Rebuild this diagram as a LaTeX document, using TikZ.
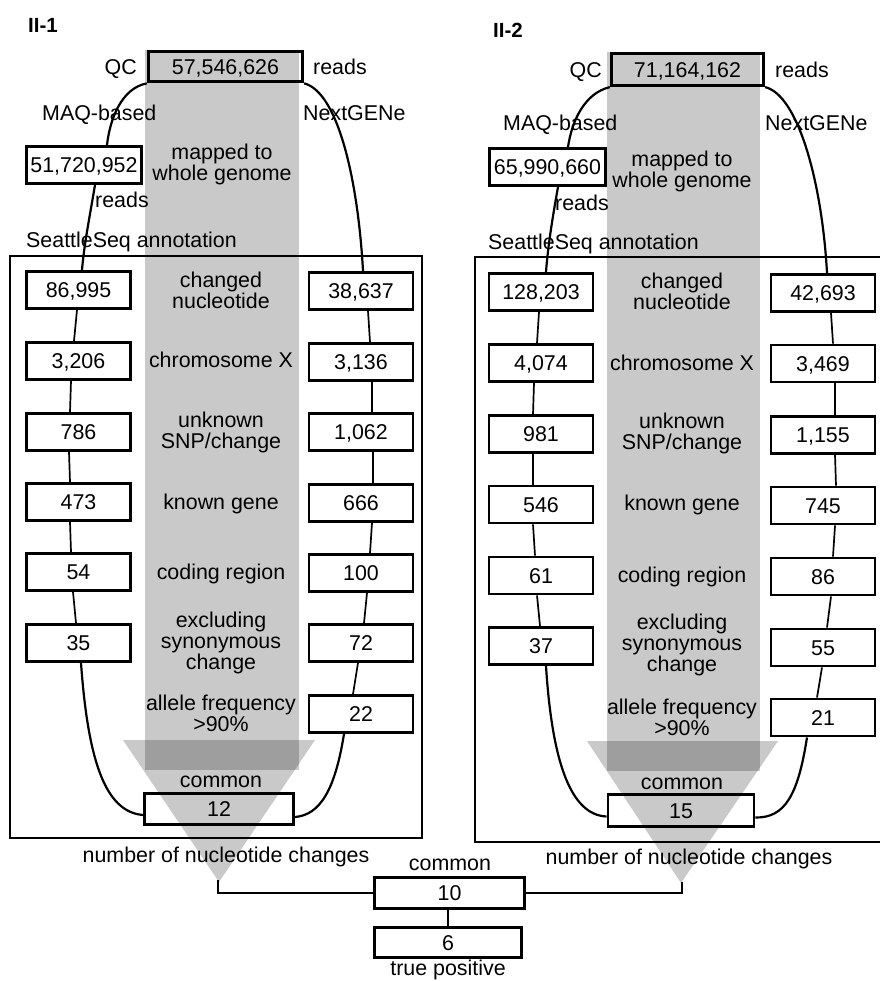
\documentclass[tikz,border=0pt]{standalone}
\usepackage{fontspec}
\setmainfont{Liberation Sans}
\begin{document}
\begin{tikzpicture}[x=1pt,y=-1pt,
  txt/.style={font=\fontsize{21.4}{21}\selectfont, inner sep=0pt},
  lbl/.style={txt, text height=15.4pt, text depth=0pt},
  mlbl/.style={txt, align=center},
  ttl/.style={font=\bfseries\fontsize{20.5}{20}\selectfont, inner sep=0pt, text height=14.7pt, text depth=0pt},
  nbox/.style={lbl, draw, line width=2.9pt, fill=white, minimum width=104pt, minimum height=37pt},
  qcbox/.style={lbl, draw, line width=3.2pt, minimum height=30.5pt},
  shade/.style={fill=black, fill opacity=0.21, draw=none},
  curve/.style={line width=2.2pt},
  conn/.style={line width=1.7pt},
  frame/.style={line width=2.7pt}
]
\useasboundingbox (0,0) rectangle (879,981);

% ---------- gray columns and funnels ----------
\fill[shade] (145,50) rectangle (299,770);
\fill[shade] (123,740) -- (315,740) -- (219,882) -- cycle;
\fill[shade] (607,52) rectangle (760,771);
\fill[shade] (587,741) -- (778,741) -- (681,883) -- cycle;
\coordinate (apex1) at (218,880);
\coordinate (apex2) at (682,882);

% ---------- frames ----------
\draw[frame] (10,256) rectangle (422,838);
\draw[frame] (475,257) rectangle (905,842);

% ---------- II-1 nodes ----------
\node[ttl, anchor=west] (t1) at (28,25) {II-1};
\node[qcbox, minimum width=154pt] (qc1) at (225.5,66.5) {57,546,626};
\node[lbl, anchor=east] (qcl1) at (137,67) {QC};
\node[lbl, anchor=west] (rd1) at (313,67) {reads};
\node[lbl, anchor=west] (maq1) at (42,113) {MAQ-based};
\node[lbl, anchor=west] (nxt1) at (303,113) {NextGENe};
\node[nbox, minimum width=115pt] (m1) at (84,165) {51,720,952};
\node[mlbl] (map1) at (222,164) {mapped to\\whole genome};
\node[lbl, anchor=west] (rdb1) at (95,200) {reads};
\node[lbl, anchor=west] (ss1) at (26,240) {SeattleSeq annotation};

\node[nbox] (l1) at (78.5,290) {86,995};
\node[nbox] (l2) at (78.5,361) {3,206};
\node[nbox] (l3) at (78.5,432) {786};
\node[nbox] (l4) at (78.5,502) {473};
\node[nbox] (l5) at (78.5,572) {54};
\node[nbox] (l6) at (78.5,643) {35};

\node[nbox] (r1) at (361,291) {38,637};
\node[nbox] (r2) at (361,362) {3,136};
\node[nbox] (r3) at (361,432) {1,062};
\node[nbox] (r4) at (361,503) {666};
\node[nbox] (r5) at (361,573) {100};
\node[nbox] (r6) at (361,643) {72};
\node[nbox] (r7) at (361,714) {22};

\node[mlbl] (a1) at (221,290) {changed\\nucleotide};
\node[lbl] (a2) at (221,360) {chromosome X};
\node[mlbl] (a3) at (221,432) {unknown\\SNP/change};
\node[lbl] (a4) at (221,502) {known gene};
\node[lbl] (a5) at (221,572) {coding region};
\node[mlbl] (a6) at (221,643) {excluding\\synonymous\\change};
\node[mlbl] (a7) at (221,713) {allele frequency\\>90\%};
\node[lbl] (a8) at (221,780) {common};
\node[lbl, draw, line width=2.9pt, minimum width=149pt, minimum height=31pt] (b12) at (219,809) {12};
\node[lbl] (nn1) at (226,855) {number of nucleotide changes};

% ---------- II-2 nodes ----------
\node[ttl, anchor=west] (t2) at (493,30) {II-2};
\node[qcbox, minimum width=152pt, minimum height=32pt] (qc2) at (687.5,69.5) {71,164,162};
\node[lbl, anchor=east] (qcl2) at (602,70) {QC};
\node[lbl, anchor=west] (rd2) at (775,70) {reads};
\node[lbl, anchor=west] (maq2) at (503,123) {MAQ-based};
\node[lbl, anchor=west] (nxt2) at (765,123) {NextGENe};
\node[nbox, minimum width=116pt] (m2) at (547.5,167) {65,990,660};
\node[mlbl] (map2) at (682,171) {mapped to\\whole genome};
\node[lbl, anchor=west] (rdb2) at (555,203) {reads};
\node[lbl, anchor=west] (ss2) at (488,242) {SeattleSeq annotation};

\node[nbox] (L1) at (541,292) {128,203};
\node[nbox] (L2) at (541,363) {4,074};
\node[nbox] (L3) at (541,434) {981};
\node[nbox] (L4) at (541,504.5) {546};
\node[nbox] (L5) at (541,575.5) {61};
\node[nbox] (L6) at (541,646) {37};

\node[nbox] (R1) at (823,293) {42,693};
\node[nbox] (R2) at (823,363.5) {3,469};
\node[nbox] (R3) at (823,435) {1,155};
\node[nbox] (R4) at (823,505.5) {745};
\node[nbox] (R5) at (823,576.5) {86};
\node[nbox] (R6) at (823,647.5) {55};
\node[nbox] (R7) at (823,717.5) {21};

\node[mlbl] (c1) at (682,291) {changed\\nucleotide};
\node[lbl] (c2) at (682,363) {chromosome X};
\node[mlbl] (c3) at (682,433) {unknown\\SNP/change};
\node[lbl] (c4) at (682,503) {known gene};
\node[lbl] (c5) at (682,575) {coding region};
\node[mlbl] (c6) at (682,645) {excluding\\synonymous\\change};
\node[mlbl] (c7) at (682,717) {allele frequency\\>90\%};
\node[lbl] (c8) at (682,782) {common};
\node[lbl, draw, line width=2.9pt, minimum width=146pt, minimum height=32pt] (b15) at (681,810.5) {15};
\node[lbl] (nn2) at (689,857) {number of nucleotide changes};

% ---------- bottom ----------
\node[lbl] (cm) at (450,863) {common};
\node[nbox, minimum width=150pt, minimum height=31pt] (c10) at (449.5,893) {10};
\node[nbox, minimum width=147pt, minimum height=30pt] (c6b) at (448,942.5) {6};
\node[lbl] (tp) at (448,968) {true positive};

% ---------- II-1 connectors ----------
\draw[curve] (qc1.south west) .. controls (122,88) and (110,118) .. ([xshift=23pt]m1.north);
\draw[curve] ([xshift=11pt]m1.south) .. controls (90,215) and (84,245) .. ([xshift=3.5pt]l1.north);
\draw[curve] (qc1.south east) .. controls (338,92) and (358,180) .. ([xshift=2pt]r1.north);
\draw[conn] ([xshift=-1.5pt]l1.south) -- ([xshift=-4.5pt]l2.north);
\draw[conn] ([xshift=-7.5pt]l2.south) -- ([xshift=-8.5pt]l3.north);
\draw[conn] ([xshift=-9.5pt]l3.south) -- ([xshift=-8.5pt]l4.north);
\draw[conn] ([xshift=-8.5pt]l4.south) -- ([xshift=-7.5pt]l5.north);
\draw[conn] ([xshift=-5.5pt]l5.south) -- ([xshift=-2.5pt]l6.north);
\draw[curve] ([xshift=2.5pt]l6.south) .. controls (88,760) and (105,812) .. ([yshift=-6pt]b12.west);
\draw[conn] ([xshift=7pt]r1.south) -- ([xshift=9pt]r2.north);
\draw[conn] ([xshift=11pt]r2.south) -- ([xshift=11pt]r3.north);
\draw[conn] ([xshift=12pt]r3.south) -- ([xshift=12pt]r4.north);
\draw[conn] ([xshift=11pt]r4.south) -- ([xshift=9pt]r5.north);
\draw[conn] ([xshift=6pt]r5.south) -- ([xshift=3pt]r6.north);
\draw[conn] ([xshift=-3pt]r6.south) -- ([xshift=-8pt]r7.north);
\draw[curve] ([xshift=-17pt]r7.south) .. controls (335,790) and (320,815) .. ([yshift=-8pt]b12.east);

% ---------- II-2 connectors ----------
\draw[curve] (qc2.south west) .. controls (585,93) and (572,120) .. ([xshift=20.5pt]m2.north);
\draw[curve] ([xshift=10.5pt]m2.south) .. controls (553,215) and (548,245) .. ([xshift=5pt]L1.north);
\draw[curve] (qc2.south east) .. controls (798,95) and (822,182) .. ([xshift=4pt]R1.north);
\draw[conn] ([xshift=-2pt]L1.south) -- ([xshift=-4pt]L2.north);
\draw[conn] ([xshift=-7pt]L2.south) -- ([xshift=-8pt]L3.north);
\draw[conn] ([xshift=-8pt]L3.south) -- ([xshift=-8pt]L4.north);
\draw[conn] ([xshift=-8pt]L4.south) -- ([xshift=-6pt]L5.north);
\draw[conn] ([xshift=-4pt]L5.south) -- ([xshift=-1pt]L6.north);
\draw[curve] ([xshift=5pt]L6.south) .. controls (552,760) and (570,815) .. ([yshift=-6pt]b15.west);
\draw[conn] ([xshift=8pt]R1.south) -- ([xshift=10pt]R2.north);
\draw[conn] ([xshift=12pt]R2.south) -- ([xshift=12pt]R3.north);
\draw[conn] ([xshift=12pt]R3.south) -- ([xshift=13pt]R4.north);
\draw[conn] ([xshift=12pt]R4.south) -- ([xshift=10pt]R5.north);
\draw[conn] ([xshift=8pt]R5.south) -- ([xshift=4pt]R6.north);
\draw[conn] ([xshift=-1pt]R6.south) -- ([xshift=-6pt]R7.north);
\draw[curve] ([xshift=-16pt]R7.south) .. controls (798,795) and (785,818) .. ([yshift=-7pt]b15.east);

% ---------- bottom connectors ----------
\draw[curve] (apex1) |- (c10.west);
\draw[curve] (apex2) |- (c10.east);
\draw[line width=2.6pt] ([xshift=-1.5pt]c10.south) -- ([xshift=0pt]c6b.north);
\end{tikzpicture}
\end{document}
